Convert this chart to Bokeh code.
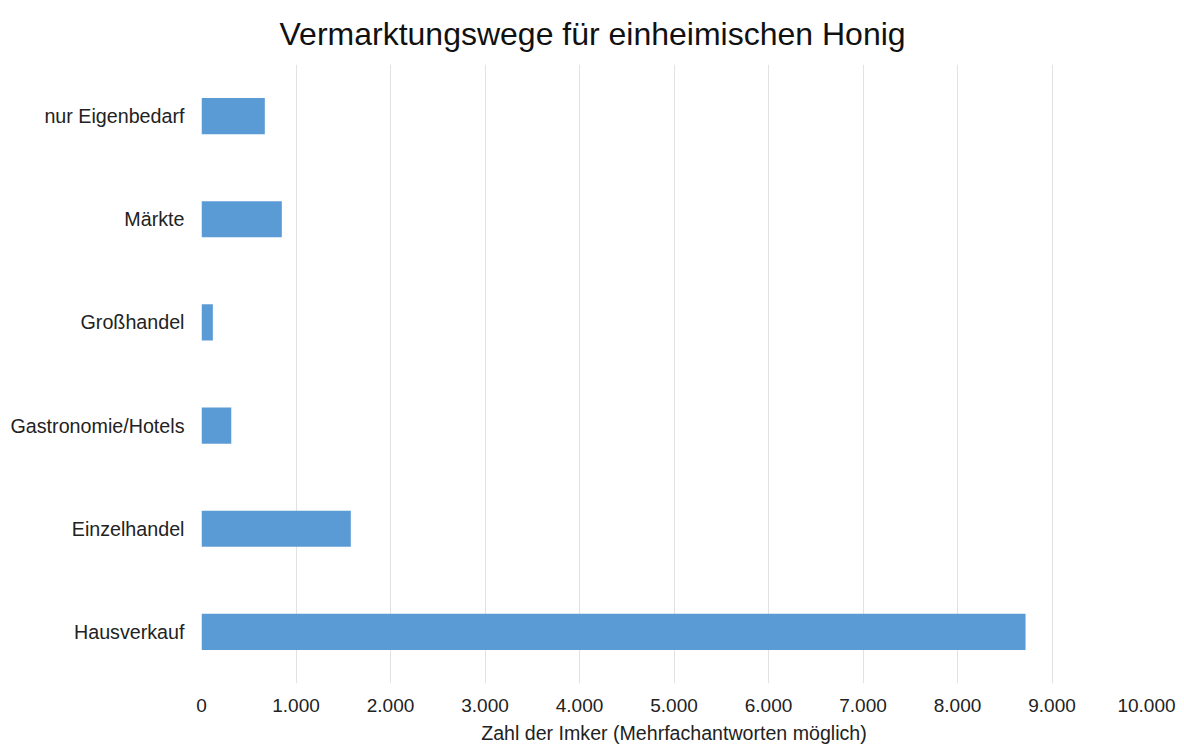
from bokeh.plotting import figure
from bokeh.models import ColumnDataSource, FixedTicker, Title
from bokeh.embed import file_html
from bokeh.resources import INLINE

categories = ["Hausverkauf", "Einzelhandel", "Gastronomie/Hotels", "Großhandel", "Märkte", "nur Eigenbedarf"]
values = [8720, 1580, 315, 120, 850, 670]
tick_values = [0, 1000, 2000, 3000, 4000, 5000, 6000, 7000, 8000, 9000, 10000]
tick_labels = ["0", "1.000", "2.000", "3.000", "4.000", "5.000", "6.000", "7.000", "8.000", "9.000", "10.000"]
title_text = "Vermarktungswege für einheimischen Honig"
x_label = "Zahl der Imker (Mehrfachantworten möglich)"

FONT = "Liberation Sans"

src = ColumnDataSource(dict(cat=categories, val=values))

p = figure(y_range=categories, x_range=(0, 10000), width=1184, height=746,
           output_backend="svg", toolbar_location=None,
           min_border_left=201, min_border_right=38, min_border_top=64, min_border_bottom=61)

p.hbar(y="cat", right="val", left=0, height=0.35, source=src,
       fill_color="#5B9BD5", line_color=None)

p.title = None
t = Title(text=title_text, align="left", offset=78, vertical_align="bottom",
          text_font=FONT, text_font_size="32px",
          text_font_style="normal", text_color="#111111", standoff=26)
p.add_layout(t, "above")

p.xaxis.ticker = FixedTicker(ticks=tick_values)
p.xaxis.major_label_overrides = {v: l for v, l in zip(tick_values, tick_labels)}
p.xaxis.axis_label = x_label
p.xaxis.axis_label_text_font = FONT
p.xaxis.axis_label_text_font_size = "19.6px"
p.xaxis.axis_label_text_font_style = "normal"
p.xaxis.axis_label_text_color = "#222222"
p.xaxis.axis_label_text_line_height = 0.9
p.xaxis.axis_label_standoff = 7

for ax in (p.xaxis, p.yaxis):
    ax.axis_line_color = None
    ax.major_tick_line_color = None
    ax.minor_tick_line_color = None
    ax.major_tick_out = 0
    ax.major_tick_in = 0
    ax.minor_tick_out = 0
    ax.minor_tick_in = 0
    ax.major_label_text_font = FONT
    ax.major_label_text_color = "#222222"

p.xaxis.major_label_text_font_size = "19px"
p.yaxis.major_label_text_font_size = "19.7px"
p.xaxis.major_label_standoff = 15
p.yaxis.major_label_standoff = 17

p.xgrid.grid_line_color = "#E2E2E2"
p.xgrid.grid_line_width = 1
p.ygrid.grid_line_color = None
p.outline_line_color = None

open("out.html", "w").write(file_html(p, INLINE))
